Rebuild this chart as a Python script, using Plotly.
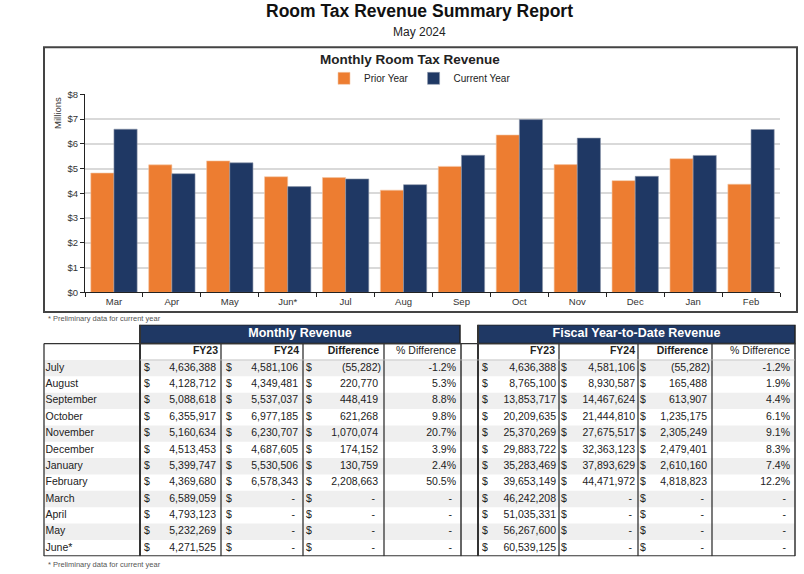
import plotly.graph_objects as go

# ---------------- data ----------------
chart_months = ["Mar", "Apr", "May", "Jun*", "Jul", "Aug", "Sep", "Oct", "Nov", "Dec", "Jan", "Feb"]
prior_year_m = [4.82, 5.15, 5.31, 4.67, 4.636388, 4.128712, 5.088618, 6.355917, 5.160634, 4.513453, 5.399747, 4.369680]
current_year_m = [6.589059, 4.793123, 5.232269, 4.271525, 4.581106, 4.349481, 5.537037, 6.977185, 6.230707, 4.687605, 5.530506, 6.578343]
y_tick_vals = [0, 1, 2, 3, 4, 5, 6, 7, 8]
y_tick_text = ["$0", "$1", "$2", "$3", "$4", "$5", "$6", "$7", "$8"]

table_months = ["July", "August", "September", "October", "November", "December",
                "January", "February", "March", "April", "May", "June*"]
monthly_fy23 = [4636388, 4128712, 5088618, 6355917, 5160634, 4513453, 5399747, 4369680,
                6589059, 4793123, 5232269, 4271525]
monthly_fy24 = [4581106, 4349481, 5537037, 6977185, 6230707, 4687605, 5530506, 6578343,
                None, None, None, None]
monthly_diff = [-55282, 220770, 448419, 621268, 1070074, 174152, 130759, 2208663,
                None, None, None, None]
monthly_pct = [-1.2, 5.3, 8.8, 9.8, 20.7, 3.9, 2.4, 50.5, None, None, None, None]

ytd_fy23 = [4636388, 8765100, 13853717, 20209635, 25370269, 29883722, 35283469, 39653149,
            46242208, 51035331, 56267600, 60539125]
ytd_fy24 = [4581106, 8930587, 14467624, 21444810, 27675517, 32363123, 37893629, 44471972,
            None, None, None, None]
ytd_diff = [-55282, 165488, 613907, 1235175, 2305249, 2479401, 2610160, 4818823,
            None, None, None, None]
ytd_pct = [-1.2, 1.9, 4.4, 6.1, 9.1, 8.3, 7.4, 12.2, None, None, None, None]

col_headers = ["FY23", "FY24", "Difference", "% Difference"]

# ---------------- styles ----------------
ORANGE = "#ED7D31"
NAVY = "#1F3864"
FONT = "Liberation Sans, Arial, sans-serif"
W, H = 804, 574
TS = 10.5  # table font size


def fmt_num(v):
    if v is None:
        return "-"
    if v < 0:
        return "({:,})".format(-v)
    return "{:,}".format(v)


def fmt_pct(v):
    if v is None:
        return "-"
    return "{:.1f}%".format(v)


def py(p):
    return 1 - p / H


def px(p):
    return p / W


fig = go.Figure()

# ---------------- bar chart ----------------
fig.add_bar(x=chart_months, y=prior_year_m, name="Prior Year",
            marker=dict(color=ORANGE, line=dict(color="#f4c7a6", width=0.6)))
fig.add_bar(x=chart_months, y=current_year_m, name="Current Year",
            marker=dict(color=NAVY, line=dict(color="#8c96aa", width=0.6)))

# ---------------- tables (hidden axes x2/y2) ----------------
n = len(table_months)
row_c = [k + 0.5 for k in range(n)]


def text_trace(xs, ys, texts, pos, size=TS, color="#222", bold=False):
    fig.add_trace(go.Scatter(
        x=xs, y=ys, text=texts, mode="text", textposition=pos,
        textfont=dict(family=FONT, size=size, color=color,
                      weight="bold" if bold else "normal"),
        xaxis="x2", yaxis="y2", showlegend=False, hoverinfo="skip"))


# row labels
text_trace([45.5] * n, row_c, table_months, "middle right")

tables = [
    dict(fy23=monthly_fy23, fy24=monthly_fy24, diff=monthly_diff, pct=monthly_pct,
         dollars=[144, 226, 306], rights=[216, 298, 378], pct_r=456,
         hdr_r=[218, 299, 379, 456], band=(140, 460), title="Monthly Revenue",
         vlines=[221, 303, 384], left=140, right=461),
    dict(fy23=ytd_fy23, fy24=ytd_fy24, diff=ytd_diff, pct=ytd_pct,
         dollars=[482, 561, 640], rights=[556, 635, 707], pct_r=790,
         hdr_r=[555, 635, 708, 790], band=(478, 795), title="Fiscal Year-to-Date Revenue",
         vlines=[559, 638, 712], left=478, right=795),
]

shapes = []

# row shading
for k in range(0, n, 2):
    shapes.append(dict(type="rect", xref="x2", yref="y2", x0=44, x1=795, y0=k, y1=k + 1,
                       fillcolor="#efefef", line=dict(width=0), layer="below"))

for t in tables:
    for ci, key in enumerate(["fy23", "fy24", "diff"]):
        vals = t[key]
        text_trace([t["dollars"][ci]] * n, row_c, ["$"] * n, "middle right")
        xs = []
        for v in vals:
            if v is None:
                xs.append(t["rights"][ci] - 3)
            elif v < 0:
                xs.append(t["rights"][ci] + 3)
            else:
                xs.append(t["rights"][ci])
        text_trace(xs, row_c, [fmt_num(v) for v in vals], "middle left")
    text_trace([t["pct_r"] if v is not None else t["pct_r"] - 4 for v in t["pct"]], row_c,
               [fmt_pct(v) for v in t["pct"]], "middle left")
    # column headers
    text_trace(t["hdr_r"][:3], [-0.5] * 3, col_headers[:3], "middle left", bold=True)
    text_trace([t["hdr_r"][3]], [-0.5], [col_headers[3]], "middle left")
    # band
    b0, b1 = t["band"]
    shapes.append(dict(type="rect", xref="x2", yref="y2", x0=b0, x1=b1, y0=-2.15, y1=-1.0,
                       fillcolor=NAVY, line=dict(color="#222", width=1.5), layer="below"))
    text_trace([(b0 + b1) / 2], [-1.58], [t["title"]], "middle center", size=12.5,
               color="white", bold=True)
    # vertical lines
    shapes.append(dict(type="line", xref="x2", yref="y2", x0=t["left"], x1=t["left"],
                       y0=-2.15, y1=n, line=dict(color="#333", width=2)))
    shapes.append(dict(type="line", xref="x2", yref="y2", x0=t["right"], x1=t["right"],
                       y0=-1.0, y1=n, line=dict(color="#333", width=1.5)))
    for vx in t["vlines"]:
        shapes.append(dict(type="line", xref="x2", yref="y2", x0=vx, x1=vx,
                           y0=-1.0, y1=n, line=dict(color="#333", width=1.3)))

# horizontal lines
shapes.append(dict(type="line", xref="x2", yref="y2", x0=44, x1=795, y0=-1.0, y1=-1.0,
                   line=dict(color="#333", width=1.3)))
shapes.append(dict(type="line", xref="x2", yref="y2", x0=140, x1=795, y0=0, y1=0,
                   line=dict(color="#bbb", width=0.8)))
shapes.append(dict(type="line", xref="x2", yref="y2", x0=44, x1=795, y0=n, y1=n,
                   line=dict(color="#333", width=2)))
shapes.append(dict(type="line", xref="x2", yref="y2", x0=44, x1=44, y0=-1.0, y1=n,
                   line=dict(color="#333", width=1.3)))

# chart box
shapes.append(dict(type="rect", xref="paper", yref="paper", x0=px(44), x1=px(797),
                   y0=py(312), y1=py(42), line=dict(color="#444", width=2)))

annotations = [
    dict(text="<b>Room Tax Revenue Summary Report</b>", x=px(420), y=py(17), xref="paper",
         yref="paper", yanchor="bottom", showarrow=False,
         font=dict(family=FONT, size=17.5, color="#111")),
    dict(text="May 2024", x=px(420), y=py(26), xref="paper", yref="paper", yanchor="middle",
         showarrow=False, font=dict(family=FONT, size=12, color="#222")),
    dict(text="<b>Monthly Room Tax Revenue</b>", x=px(410), y=py(55), xref="paper",
         yref="paper", yanchor="middle", showarrow=False,
         font=dict(family=FONT, size=13.5, color="#222")),
    dict(text="Millions", x=px(58), y=py(109), xref="paper", yref="paper", textangle=-90,
         xanchor="center", yanchor="middle", showarrow=False,
         font=dict(family=FONT, size=9.5, color="#333")),
    dict(text="* Preliminary data for current year", x=px(46), y=py(319), xref="paper",
         yref="paper", xanchor="left", yanchor="middle", showarrow=False,
         font=dict(family=FONT, size=7.5, color="#555")),
    dict(text="* Preliminary data for current year", x=px(46), y=py(569), xref="paper",
         yref="paper", xanchor="left", yanchor="middle", showarrow=False,
         font=dict(family=FONT, size=7.5, color="#555")),
]

fig.update_layout(
    width=W, height=H, margin=dict(l=0, r=0, t=0, b=0),
    paper_bgcolor="white", plot_bgcolor="white",
    barmode="group", bargap=0.2, bargroupgap=0,
    font=dict(family=FONT, size=9.5, color="#333"),
    legend=dict(orientation="h", x=px(420), xanchor="center", y=py(59), yanchor="top",
                font=dict(family=FONT, size=10, color="#222"), bgcolor="rgba(0,0,0,0)",
                itemwidth=30, tracegroupgap=0),
    xaxis=dict(domain=[px(85), px(780)], anchor="y", showline=True, linecolor="#222",
               linewidth=1, ticks="outside", ticklen=4, tickcolor="#222",
               tickson="boundaries", tickfont=dict(size=9.5, color="#333"), fixedrange=True),
    yaxis=dict(domain=[py(292), py(90)], anchor="x", range=[0, 8], tickvals=y_tick_vals,
               ticktext=y_tick_text, showline=True, linecolor="#222", linewidth=1,
               ticks="outside", ticklen=4, tickcolor="#222", showgrid=True,
               gridcolor="#d9d9d9", gridwidth=1.5, zeroline=False,
               tickfont=dict(size=9.5, color="#333")),
    xaxis2=dict(domain=[0, 1], range=[0, W], anchor="y2", visible=False, fixedrange=True),
    yaxis2=dict(domain=[py(561), py(325)], range=[n, -2.15], anchor="x2", visible=False,
                fixedrange=True),
    shapes=shapes, annotations=annotations,
)

fig.write_html("out.html", config={"displayModeBar": False},
               post_script="document.body.style.margin='0px';"
                           "document.body.style.overflow='hidden';")
